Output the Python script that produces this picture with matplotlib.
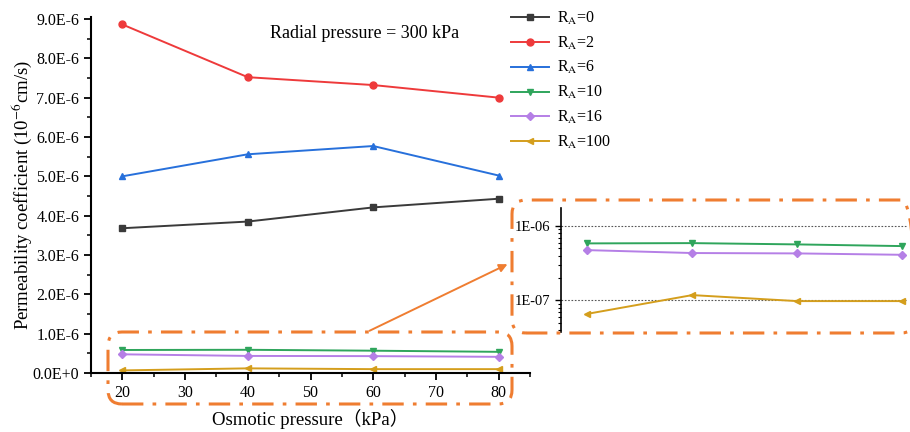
import math
import matplotlib
matplotlib.use('Agg')
import matplotlib.pyplot as plt
from matplotlib.patches import FancyBboxPatch, FancyArrowPatch
from matplotlib.ticker import FuncFormatter, MultipleLocator, FixedLocator, LogLocator, NullFormatter

plt.rcParams['font.family'] = ['Liberation Serif', 'Noto Sans CJK SC', 'DejaVu Sans']
plt.rcParams['mathtext.fontset'] = 'stix'

# data
osmotic = [20, 40, 60, 80]
labels = ['R$_\\mathrm{A}$=0', 'R$_\\mathrm{A}$=2', 'R$_\\mathrm{A}$=6',
          'R$_\\mathrm{A}$=10', 'R$_\\mathrm{A}$=16', 'R$_\\mathrm{A}$=100']
k_ra0 = [3.68e-6, 3.85e-6, 4.21e-6, 4.43e-6]
k_ra2 = [8.86e-6, 7.52e-6, 7.32e-6, 7.00e-6]
k_ra6 = [5.00e-6, 5.56e-6, 5.77e-6, 5.02e-6]
k_ra10 = [5.85e-7, 5.90e-7, 5.67e-7, 5.38e-7]
k_ra16 = [4.75e-7, 4.34e-7, 4.29e-7, 4.11e-7]
k_ra100 = [6.6e-8, 1.18e-7, 9.8e-8, 9.8e-8]

series = [k_ra0, k_ra2, k_ra6, k_ra10, k_ra16, k_ra100]
colors = ['#3a3a3a', '#ee3a3b', '#2770db', '#2fa55c', '#b57fe6', '#d49e1c']
markers = ['s', 'o', '^', 'v', 'D', '<']
box_color = '#ef7d31'

fig = plt.figure(figsize=(9.1, 4.32), dpi=100)
ax = fig.add_axes([91/910, 1-373/432, (530-91)/910, (373-17)/432])

for vals, c, m, lab in zip(series, colors, markers, labels):
    ax.plot(osmotic, vals, color=c, marker=m, ms=5 if m != 'D' else 4, lw=1.4, label=lab)

ax.set_xlim(15, 85)
ax.set_ylim(0, 9.05e-6)
ax.xaxis.set_major_locator(FixedLocator([20, 30, 40, 50, 60, 70, 80]))
ax.xaxis.set_minor_locator(MultipleLocator(5))
ax.yaxis.set_major_locator(MultipleLocator(1e-6))
ax.yaxis.set_minor_locator(MultipleLocator(0.5e-6))

def fmt(v, pos):
    if abs(v) < 1e-12:
        return '0.0E+0'
    return '%.1fE-6' % (v / 1e-6)

ax.yaxis.set_major_formatter(FuncFormatter(fmt))
for s in ['top', 'right']:
    ax.spines[s].set_visible(False)
for s in ['left', 'bottom']:
    ax.spines[s].set_linewidth(1.5)
ax.tick_params(which='major', length=5, width=1.3, labelsize=11.5)
ax.tick_params(which='minor', length=3, width=1.1)
ax.set_xlabel('Osmotic pressure（kPa）', fontsize=13.5, labelpad=6)
ax.set_ylabel('Permeability coefficient (10$^{-6}$cm/s)', fontsize=13.5)
ax.yaxis.set_label_coords(-0.13, 0.5)
ax.text(270/910, 1-33/432, 'Radial pressure = 300 kPa', transform=fig.transFigure,
        fontsize=13, va='center', ha='left')

fig.legend(loc='upper left', bbox_to_anchor=(506/910, 1-5/432), frameon=False,
           fontsize=11.5, handlelength=2.4, labelspacing=0.48, handletextpad=0.5,
           borderpad=0.3, borderaxespad=0)

# inset (log scale)
ins = fig.add_axes([561/910, 1-331.7/432, (908-561)/910, (331.7-208)/432])
for vals, c, m in zip(series[3:], colors[3:], markers[3:]):
    ins.plot(osmotic, vals, color=c, marker=m, ms=5 if m != 'D' else 4, lw=1.4)
ins.set_yscale('log')
ins.set_xlim(15, 81.1)
ins.set_ylim(3.8e-8, 1.75e-6)
ins.yaxis.set_major_locator(FixedLocator([1e-7, 1e-6]))
ins.yaxis.set_major_formatter(FuncFormatter(lambda v, p: '1E-%02d' % round(-math.log10(v))))
ins.yaxis.set_minor_locator(LogLocator(base=10, subs=range(2, 10)))
ins.yaxis.set_minor_formatter(NullFormatter())
ins.set_xticks([])
for s in ['top', 'right', 'bottom']:
    ins.spines[s].set_visible(False)
ins.spines['left'].set_linewidth(1.2)
ins.tick_params(which='major', length=4, width=1.0, labelsize=10.5)
ins.tick_params(which='minor', length=2, width=0.8)
for yv in [1e-7, 1e-6]:
    ins.axhline(yv, color='#555555', lw=0.8, ls=(0, (1.5, 1.5)), zorder=0)
ins.patch.set_alpha(0)

# dash-dot rounded boxes and arrow (drawn in inches)
dash = (0, (7, 3, 1.2, 3))
b1 = FancyBboxPatch((1.08, 4.32-4.04), 5.12-1.08, 4.04-3.32,
                    boxstyle='round,pad=0,rounding_size=0.14', transform=fig.dpi_scale_trans,
                    fill=False, ec=box_color, lw=2.2, ls=dash)
b2 = FancyBboxPatch((5.12, 4.32-3.33), 9.15-5.12, 3.33-2.00,
                    boxstyle='round,pad=0,rounding_size=0.14', transform=fig.dpi_scale_trans,
                    fill=False, ec=box_color, lw=2.2, ls=dash)
arr = FancyArrowPatch((3.67, 4.32-3.32), (5.10, 4.32-2.63), transform=fig.dpi_scale_trans,
                      arrowstyle='-|>', mutation_scale=12, color=box_color, lw=1.4)
for p in [b1, b2, arr]:
    fig.patches.append(p)

fig.savefig('out.png', dpi=100)
